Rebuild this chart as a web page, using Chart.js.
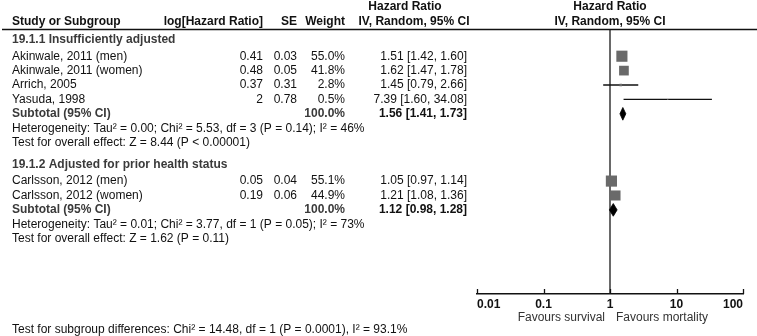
<!DOCTYPE html>
<html><head><meta charset="utf-8">
<script src="https://cdn.jsdelivr.net/npm/chart.js@4.4.1/dist/chart.umd.min.js"></script>
<style>html,body{margin:0;padding:0;background:#fff}#wrap{width:757px;height:336px;position:relative}</style>
</head><body><div id="wrap"><canvas id="c" width="757" height="336"></canvas></div>
<script>
// ---------- data ----------
const groupTitles = ["19.1.1 Insufficiently adjusted", "19.1.2 Adjusted for prior health status"];
const studyNames = ["Akinwale, 2011 (men)", "Akinwale, 2011 (women)", "Arrich, 2005", "Yasuda, 1998", "Carlsson, 2012 (men)", "Carlsson, 2012 (women)"];
const studyGroup = [0, 0, 0, 0, 1, 1];
const logHR = [0.41, 0.48, 0.37, 2, 0.05, 0.19];
const seVals = [0.03, 0.05, 0.31, 0.78, 0.04, 0.06];
const weights = [55.0, 41.8, 2.8, 0.5, 55.1, 44.9];
const hrVals = [1.51, 1.62, 1.45, 7.39, 1.05, 1.21];
const ciLow = [1.42, 1.47, 0.79, 1.60, 0.97, 1.08];
const ciHigh = [1.60, 1.78, 2.66, 34.08, 1.14, 1.36];
const subHR = [1.56, 1.12];
const subLow = [1.41, 0.98];
const subHigh = [1.73, 1.28];
const subWeight = [100.0, 100.0];
const hetTexts = ["Heterogeneity: Tau² = 0.00; Chi² = 5.53, df = 3 (P = 0.14); I² = 46%",
                  "Heterogeneity: Tau² = 0.01; Chi² = 3.77, df = 1 (P = 0.05); I² = 73%"];
const overallTexts = ["Test for overall effect: Z = 8.44 (P < 0.00001)",
                      "Test for overall effect: Z = 1.62 (P = 0.11)"];
const subgroupDiffText = "Test for subgroup differences: Chi² = 14.48, df = 1 (P = 0.0001), I² = 93.1%";
const tickValues = [0.01, 0.1, 1, 10, 100];
const tickLabels = ["0.01", "0.1", "1", "10", "100"];
const favourLabels = ["Favours survival", "Favours mortality"];

// ---------- row layout (in row units) ----------
const FIRST_ROW = 0.7, HEADER_GAP = 1.12, SECTION_GAP = 0.55, Y_MAX = 18.33;
const rows = [];
let pos = FIRST_ROW;
groupTitles.forEach((t, g) => {
  if (g > 0) pos += SECTION_GAP;
  rows.push({kind: 'title', g, pos});
  pos += HEADER_GAP;
  studyNames.forEach((n, i) => { if (studyGroup[i] === g) { rows.push({kind: 'study', i, pos}); pos += 1; } });
  rows.push({kind: 'subtotal', g, pos}); pos += 1;
  rows.push({kind: 'het', g, pos}); pos += 1;
  rows.push({kind: 'overall', g, pos}); pos += 1;
});
const studyPos = i => rows.find(r => r.kind === 'study' && r.i === i).pos;
const subPos = g => rows.find(r => r.kind === 'subtotal' && r.g === g).pos;

// ---------- datasets ----------
const FONT = '"Liberation Sans", Arial, Helvetica, sans-serif';
const FS = 12;
const datasets = [];
datasets.push({ // line of no effect
  data: [{x: 1, y: 0}, {x: 1, y: Y_MAX}], showLine: true, borderColor: '#1a1a1a',
  borderWidth: 1.3, pointRadius: 0, order: 10, clip: false
});
studyNames.forEach((n, i) => {
  datasets.push({
    data: [{x: ciLow[i], y: studyPos(i)}, {x: ciHigh[i], y: studyPos(i)}],
    showLine: true, borderColor: '#111', borderWidth: 1.3, pointRadius: 0, order: 5
  });
});
datasets.push({
  data: studyNames.map((n, i) => ({x: hrVals[i], y: studyPos(i)})),
  pointStyle: 'rect', backgroundColor: '#6a6a6a', borderWidth: 0,
  pointRadius: weights.map(w => 1.5 * Math.sqrt(w) / Math.SQRT2), order: 1
});
const DIAMOND_HALF = 0.44;
subHR.forEach((h, g) => {
  const p = subPos(g);
  datasets.push({
    data: [{x: subLow[g], y: p}, {x: h, y: p - DIAMOND_HALF}, {x: subHigh[g], y: p}, {x: h, y: p + DIAMOND_HALF}, {x: subLow[g], y: p}],
    showLine: true, fill: 'shape', backgroundColor: '#000', borderColor: '#000', borderWidth: 0.8,
    pointRadius: 0, tension: 0, order: 1
  });
});

// ---------- text / table plugin ----------
const COL = {name: 12, logHR: 263, se: 297, weight: 345, ci: 467, hrHdr: 405, ivHdr: 414};
const tablePlugin = {
  id: 'table',
  afterDraw(chart) {
    const ctx = chart.ctx, y = chart.scales.y, x = chart.scales.x, ca = chart.chartArea;
    const txt = (s, px, py, align, bold, color) => {
      ctx.font = (bold ? 'bold ' : '') + FS + 'px ' + FONT;
      ctx.textAlign = align; ctx.textBaseline = 'middle'; ctx.fillStyle = color || '#111';
      ctx.fillText(s, px, py);
    };
    ctx.save();
    // headers
    const h1 = 7, h2 = 22;
    const xc = x.getPixelForValue(1);
    txt('Hazard Ratio', COL.hrHdr, h1, 'center', true);
    txt('Hazard Ratio', xc, h1, 'center', true);
    txt('Study or Subgroup', COL.name, h2, 'left', true);
    txt('log[Hazard Ratio]', COL.logHR, h2, 'right', true);
    txt('SE', COL.se, h2, 'right', true);
    txt('Weight', COL.weight, h2, 'right', true);
    txt('IV, Random, 95% CI', COL.ivHdr, h2, 'center', true);
    txt('IV, Random, 95% CI', xc, h2, 'center', true);
    ctx.strokeStyle = '#111'; ctx.lineWidth = 1.5;
    ctx.beginPath(); ctx.moveTo(2, ca.top - 0.5); ctx.lineTo(757, ca.top - 0.5); ctx.stroke();
    // rows
    rows.forEach(r => {
      const py = y.getPixelForValue(r.pos);
      if (r.kind === 'title') txt(groupTitles[r.g], COL.name, py, 'left', true, '#3a3a3a');
      else if (r.kind === 'study') {
        const i = r.i;
        txt(studyNames[i], COL.name, py, 'left', false);
        txt(String(logHR[i]), COL.logHR, py, 'right', false);
        txt(String(seVals[i]), COL.se, py, 'right', false);
        txt(weights[i].toFixed(1) + '%', COL.weight, py, 'right', false);
        txt(hrVals[i].toFixed(2) + ' [' + ciLow[i].toFixed(2) + ', ' + ciHigh[i].toFixed(2) + ']', COL.ci, py, 'right', false);
      } else if (r.kind === 'subtotal') {
        const g = r.g;
        txt('Subtotal (95% CI)', COL.name, py, 'left', true, '#3a3a3a');
        txt(subWeight[g].toFixed(1) + '%', COL.weight, py, 'right', true, '#3a3a3a');
        txt(subHR[g].toFixed(2) + ' [' + subLow[g].toFixed(2) + ', ' + subHigh[g].toFixed(2) + ']', COL.ci, py, 'right', true);
      } else if (r.kind === 'het') txt(hetTexts[r.g], COL.name, py, 'left', false);
      else if (r.kind === 'overall') txt(overallTexts[r.g], COL.name, py, 'left', false);
    });
    // axis tick marks (upward)
    ctx.strokeStyle = '#111'; ctx.lineWidth = 1.3;
    x.ticks.forEach(t => {
      const px = Math.round(x.getPixelForValue(t.value)) + 0.5;
      ctx.beginPath(); ctx.moveTo(px, ca.bottom - 5); ctx.lineTo(px, ca.bottom); ctx.stroke();
    });
    // favours labels
    txt(favourLabels[0], xc - 5, 318, 'right', false, '#333');
    txt(favourLabels[1], xc + 6, 318, 'left', false, '#333');
    txt(subgroupDiffText, COL.name, 330, 'left', false);
    ctx.restore();
  }
};

new Chart(document.getElementById('c'), {
  type: 'scatter',
  data: {datasets},
  options: {
    responsive: false, animation: false, events: [],
    layout: {padding: {left: 477, right: 14, top: 30, bottom: 22}},
    plugins: {legend: {display: false}, tooltip: {enabled: false}},
    scales: {
      x: {
        type: 'logarithmic', min: 0.01, max: 100, position: 'bottom',
        afterBuildTicks: s => { s.ticks = tickValues.map(v => ({value: v})); },
        afterFit: s => { s.height = 20; },
        grid: {display: false, drawTicks: false},
        border: {display: true, color: '#111', width: 1.5},
        ticks: {
          padding: 3, color: '#111', maxRotation: 0, autoSkip: false, align: 'inner',
          font: {family: FONT, size: FS, weight: 'bold'},
          callback: (v, i) => tickLabels[i]
        }
      },
      y: {type: 'linear', reverse: true, min: 0, max: Y_MAX, display: false}
    }
  },
  plugins: [tablePlugin]
});
</script></body></html>
